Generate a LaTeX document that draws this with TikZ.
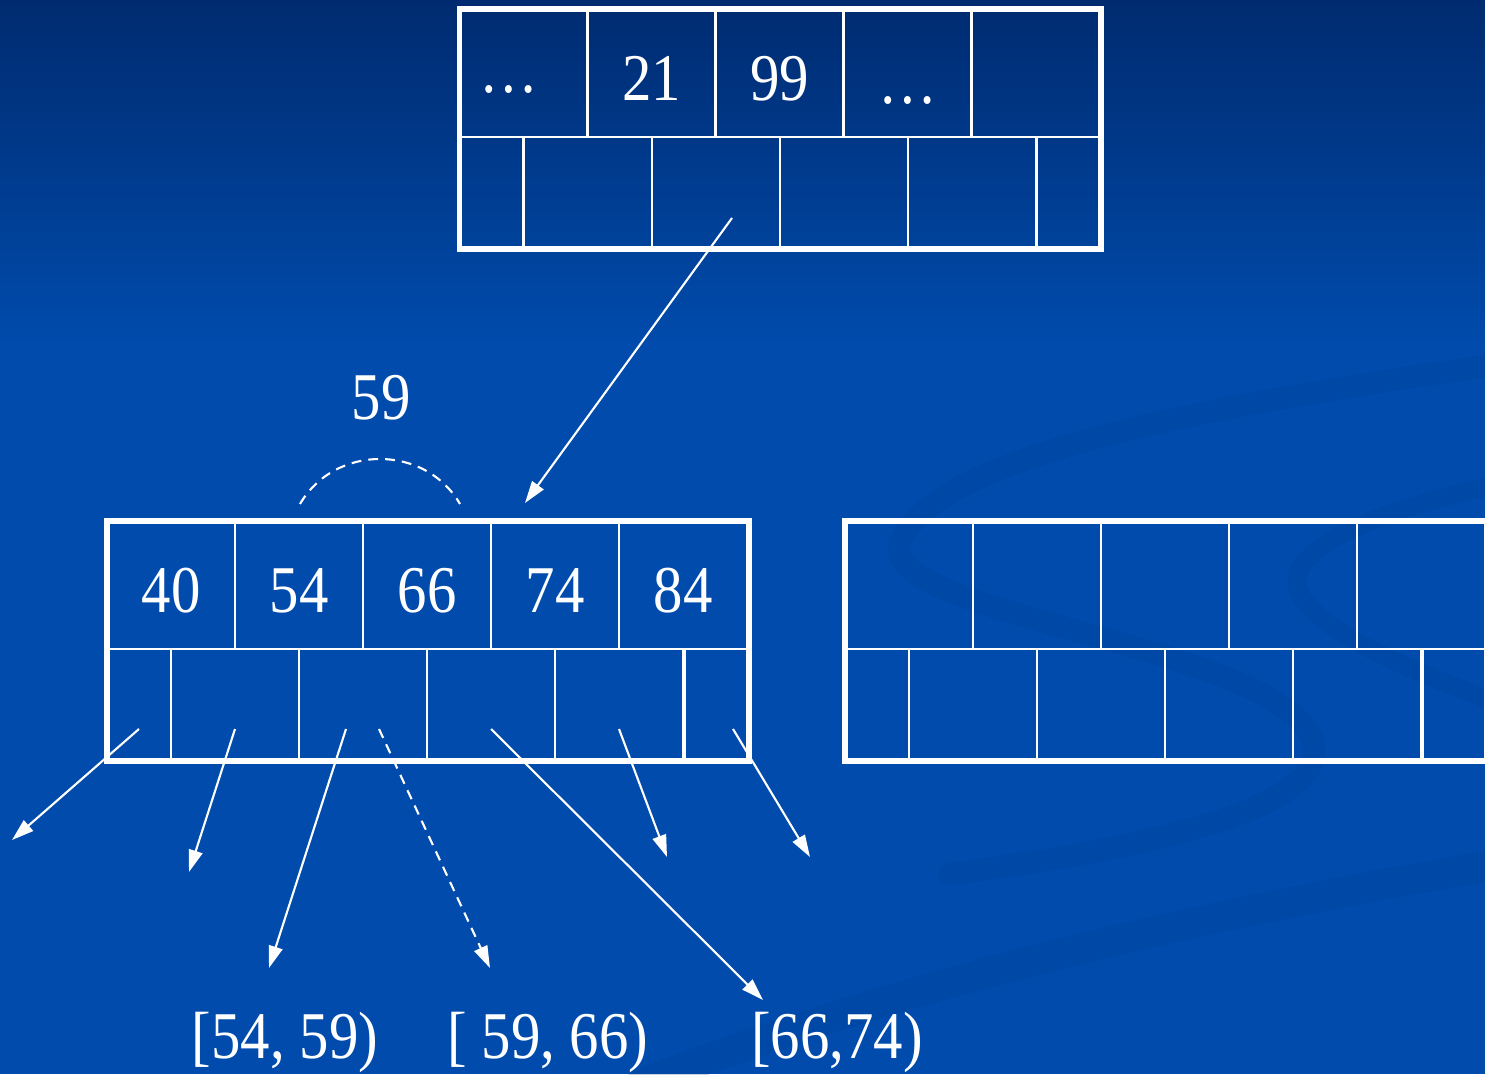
\documentclass[tikz,border=0pt]{standalone}
\usepackage{fontspec}
\setmainfont{Liberation Serif}[FakeStretch=0.88]
\usetikzlibrary{positioning, arrows.meta, calc}
\definecolor{bttop}{HTML}{002B70}
\definecolor{btblue}{HTML}{004BAC}
\definecolor{btswoosh}{HTML}{003E94}
\tikzset{
  keycell/.style={draw=white, line width=0.6pt, minimum width=1.28cm, minimum height=1.28cm,
    inner sep=0pt, outer sep=0pt, text=white, text height=0.56cm, text depth=0pt,
    font=\fontsize{19}{22}\selectfont},
  ptrcell/.style={draw=white, line width=0.6pt, minimum width=1.28cm, minimum height=1.12cm,
    inner sep=0pt, outer sep=0pt},
  halfcell/.style={ptrcell, minimum width=0.64cm},
  nodeframe/.style={draw=white, line width=1.6pt},
  ptrarrow/.style={white, line width=0.6pt, -{Triangle[length=2.2mm, width=1.4mm]}},
  splitdash/.style={dash pattern=on 2.8pt off 2pt},
  rangelbl/.style={text=white, anchor=base, font=\fontsize{19}{22}\selectfont},
  swoosh/.style={btswoosh, opacity=0.22, line cap=round},
}

\begin{document}
\begin{tikzpicture}
  \useasboundingbox (0,0) rectangle (14.85,10.74);
  \clip (0,0) rectangle (14.85,10.74);
  \fill[btblue] (0,0) rectangle (14.85,10.74);
  \shade[top color=bttop, bottom color=btblue] (0,7.3) rectangle (14.85,10.74);
  \draw[swoosh, line width=0.22cm] (15,7.1) .. controls (12.2,6.7) and (9.3,6.2) .. (9.0,5.3)
    .. controls (8.8,4.6) and (12.6,4.3) .. (13.1,3.4) .. controls (13.5,2.6) and (11,2.2) .. (9.5,2.0);
  \draw[swoosh, line width=0.3cm] (6.4,-0.1) .. controls (9,0.9) and (12,1.6) .. (15,2.1);
  \draw[swoosh, line width=0.18cm] (15,5.9) .. controls (13.6,5.6) and (12.8,5.2) .. (13.0,4.8)
    .. controls (13.2,4.4) and (14.2,4.0) .. (15,3.7);

  % root page
  \node[keycell] (T1) at (5.235,10.01) {\raisebox{0.08cm}{…}\kern0.3cm};
  \node[keycell] (T2) at (6.515,10.01) {21};
  \node[keycell] (T3) at (7.795,10.01) {99};
  \node[keycell] (T4) at (9.075,10.01) {\raisebox{-0.03cm}{…}};
  \node[keycell] (T5) at (10.355,10.01) {};
  \node[halfcell] (Tp0) at (4.91,8.81) {};
  \foreach \i in {1,...,4}
    \node[ptrcell] (Tp\i) at ({4.60+1.28*\i},8.81) {};
  \node[halfcell] (Tp5) at (10.69,8.81) {};
  \draw[nodeframe] (T1.north west) rectangle (Tp5.south east);

  % leaf being split
  \foreach \i/\v in {1/40,2/54,3/66,4/74,5/84}
    \node[keycell] (L\i) at ({0.43+1.28*\i},4.89) {\v};
  \node[halfcell] (Lp0) at (1.39,3.69) {};
  \foreach \i in {1,...,4}
    \node[ptrcell] (Lp\i) at ({1.07+1.28*\i},3.69) {};
  \node[halfcell] (Lp5) at (7.17,3.69) {};
  \draw[nodeframe] (L1.north west) rectangle (Lp5.south east);

  % new sibling
  \foreach \i in {1,...,5}
    \node[keycell] (R\i) at ({7.81+1.28*\i},4.89) {};
  \node[halfcell] (Rp0) at (8.77,3.69) {};
  \foreach \i in {1,...,4}
    \node[ptrcell] (Rp\i) at ({8.45+1.28*\i},3.69) {};
  \node[halfcell] (Rp5) at (14.55,3.69) {};
  \draw[nodeframe] (R1.north west) rectangle (Rp5.south east);

  \node[rangelbl] (split) at (3.81,6.54) {59};
  \coordinate (arcL) at (3.00,5.70);
  \coordinate (arcR) at (4.60,5.70);
  \draw[white, line width=0.6pt, splitdash] (arcL) .. controls (3.35,6.30) and (4.25,6.30) .. (arcR);

  \coordinate (Lin) at (5.25,5.71);
  \draw[ptrarrow] ($(Tp2.center)+(0.16,-0.25)$) -- (Lin);

  \coordinate (c0) at (0.12,2.34);
  \coordinate (c1) at (1.89,2.02);
  \coordinate (c2) at (2.69,1.06);
  \coordinate (c3) at (4.90,1.06);
  \coordinate (c4) at (7.63,0.74);
  \coordinate (c5) at (6.67,2.17);
  \coordinate (c6) at (8.10,2.17);
  \draw[ptrarrow] ($(Lp0.center)+(0,-0.24)$) -- (c0);
  \draw[ptrarrow] ($(Lp1.center)+(0,-0.24)$) -- (c1);
  \draw[ptrarrow] ($(Lp2.center)+(-0.17,-0.24)$) -- (c2);
  \draw[ptrarrow, splitdash] ($(Lp2.center)+(0.16,-0.24)$) -- (c3);
  \draw[ptrarrow] ($(Lp3.center)+(0,-0.24)$) -- (c4);
  \draw[ptrarrow] ($(Lp4.center)+(0,-0.24)$) -- (c5);
  \draw[ptrarrow] ($(Lp5.center)+(0.16,-0.24)$) -- (c6);

  \node[rangelbl] (r1) at (2.85,0.16) {[54, 59)};
  \node[rangelbl] (r2) at (5.48,0.16) {[ 59, 66)};
  \node[rangelbl] (r3) at (8.37,0.16) {[66,74)};
\end{tikzpicture}
\end{document}
